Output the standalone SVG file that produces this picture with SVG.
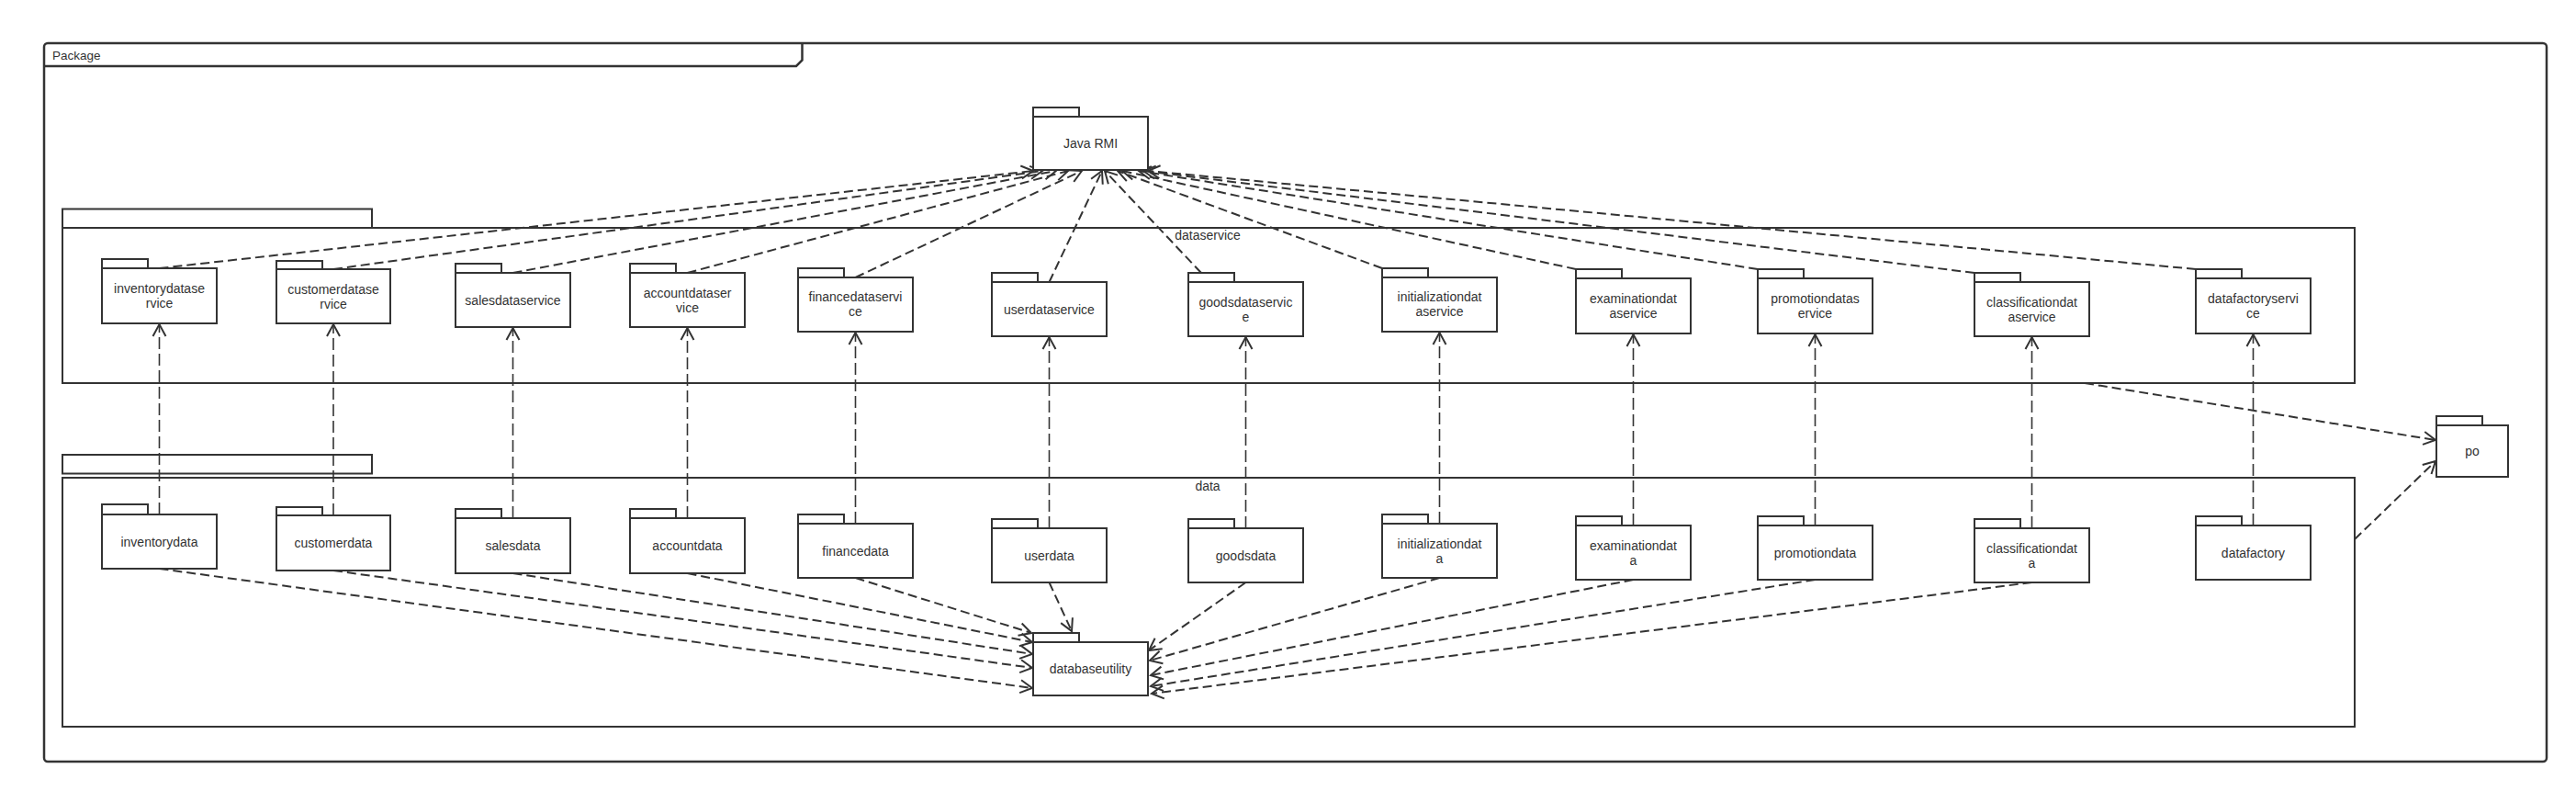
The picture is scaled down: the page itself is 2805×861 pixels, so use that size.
<svg xmlns="http://www.w3.org/2000/svg" width="2805" height="861" viewBox="0 0 2805 861">
<style>
  .frame { fill: #ffffff; stroke: #333333; stroke-width: 2.5; }
  .pkg { fill: #ffffff; stroke: #333333; stroke-width: 2; }
  .tab { fill: #ffffff; stroke: #333333; stroke-width: 2; }
  .body { fill: #ffffff; stroke: #333333; stroke-width: 2; }
  .lbl { font-family: "Liberation Sans", Arial, sans-serif; font-size: 14px; fill: #333333; text-anchor: middle; }
  .title { font-family: "Liberation Sans", Arial, sans-serif; font-size: 13.5px; fill: #333333; }
  .dep { fill: none; stroke: #333333; stroke-width: 2; stroke-dasharray: 10 5; marker-end: url(#arr); }
  .vdep { fill: none; stroke: #333333; stroke-width: 1.6; stroke-dasharray: 13 5; marker-end: url(#arr); }
</style>
<defs>
  <marker id="arr" markerWidth="18" markerHeight="18" refX="15" refY="9" orient="auto" markerUnits="userSpaceOnUse">
    <path d="M2,2 L15,9 L2,16" fill="none" stroke="#333333" stroke-width="2" stroke-dasharray="none"/>
  </marker>
</defs>

<rect width="2805" height="861" fill="#ffffff"/>

<g id="package-frame">
  <rect class="frame" x="48" y="47" width="2725" height="782" rx="4"/>
  <path d="M48,72 H867 L873.5,65.5 V47" fill="none" stroke="#333333" stroke-width="2.5"/>
  <text class="title" x="57" y="65">Package</text>
</g>

<g id="pkg-dataservice">
  <rect class="pkg" x="68" y="227.5" width="337" height="20.5"/>
  <rect class="pkg" x="68" y="248" width="2496" height="169"/>
  <text class="lbl" x="1315" y="261">dataservice</text>
</g>

<g id="pkg-data">
  <rect class="pkg" x="68" y="495" width="337" height="20.5"/>
  <rect class="pkg" x="68" y="520" width="2496" height="271"/>
  <text class="lbl" x="1315" y="534">data</text>
</g>

<g id="connectors">
  <!-- data -> dataservice -->
  <line class="vdep" x1="173.5" y1="560" x2="173.5" y2="353"/>
  <line class="vdep" x1="363" y1="561" x2="363" y2="353"/>
  <line class="vdep" x1="558.5" y1="564" x2="558.5" y2="357"/>
  <line class="vdep" x1="748.5" y1="564" x2="748.5" y2="357"/>
  <line class="vdep" x1="931.5" y1="570" x2="931.5" y2="362"/>
  <line class="vdep" x1="1142.5" y1="575" x2="1142.5" y2="367"/>
  <line class="vdep" x1="1356.5" y1="575" x2="1356.5" y2="367"/>
  <line class="vdep" x1="1567.5" y1="570" x2="1567.5" y2="362"/>
  <line class="vdep" x1="1778.5" y1="572" x2="1778.5" y2="364"/>
  <line class="vdep" x1="1976.5" y1="572" x2="1976.5" y2="364"/>
  <line class="vdep" x1="2212.5" y1="575" x2="2212.5" y2="367"/>
  <line class="vdep" x1="2453.5" y1="572" x2="2453.5" y2="364"/>
  <!-- dataservice -> Java RMI -->
  <line class="dep" x1="173.5" y1="292" x2="1125" y2="186"/>
  <line class="dep" x1="363" y1="293" x2="1135" y2="186"/>
  <line class="dep" x1="558.5" y1="297" x2="1150" y2="186"/>
  <line class="dep" x1="748.5" y1="297" x2="1163" y2="186"/>
  <line class="dep" x1="931.5" y1="302" x2="1178" y2="186"/>
  <line class="dep" x1="1142.5" y1="307" x2="1200" y2="186"/>
  <line class="dep" x1="1308" y1="297" x2="1203" y2="186"/>
  <line class="dep" x1="1505" y1="292" x2="1217" y2="186"/>
  <line class="dep" x1="1716" y1="293" x2="1222" y2="186"/>
  <line class="dep" x1="1914" y1="293" x2="1240" y2="186"/>
  <line class="dep" x1="2150" y1="297" x2="1245" y2="186"/>
  <line class="dep" x1="2391" y1="293" x2="1250" y2="186"/>
  <!-- data -> databaseutility -->
  <line class="dep" x1="173.5" y1="619" x2="1124" y2="749"/>
  <line class="dep" x1="363" y1="621" x2="1124" y2="727"/>
  <line class="dep" x1="558.5" y1="624" x2="1124" y2="712"/>
  <line class="dep" x1="748.5" y1="624" x2="1124" y2="699"/>
  <line class="dep" x1="931.5" y1="629" x2="1123" y2="689"/>
  <line class="dep" x1="1142.5" y1="634" x2="1167" y2="687"/>
  <line class="dep" x1="1356.5" y1="634" x2="1251" y2="708"/>
  <line class="dep" x1="1567.5" y1="629" x2="1252" y2="719"/>
  <line class="dep" x1="1778.5" y1="631" x2="1253" y2="735"/>
  <line class="dep" x1="1976.5" y1="631" x2="1253" y2="747"/>
  <line class="dep" x1="2212.5" y1="634" x2="1254" y2="755"/>
  <!-- to po -->
  <line class="dep" x1="2270" y1="417" x2="2652" y2="479"/>
  <line class="dep" x1="2564" y1="587" x2="2652" y2="502"/>
</g>

<g id="java-rmi">
  <rect class="tab" x="1125" y="117" width="50" height="10"/>
  <rect class="body" x="1125" y="127" width="125" height="58"/>
  <text class="lbl" x="1187.5" y="161">Java RMI</text>
</g>

<g id="inventorydataservice">
  <rect class="tab" x="111" y="282" width="50" height="10"/>
  <rect class="body" x="111" y="292" width="125" height="60"/>
  <text class="lbl" x="173.5" y="319">inventorydatase</text>
  <text class="lbl" x="173.5" y="335">rvice</text>
</g>
<g id="customerdataservice">
  <rect class="tab" x="301" y="284" width="50" height="9"/>
  <rect class="body" x="301" y="293" width="124" height="59"/>
  <text class="lbl" x="363" y="319.5">customerdatase</text>
  <text class="lbl" x="363" y="335.5">rvice</text>
</g>
<g id="salesdataservice">
  <rect class="tab" x="496" y="287" width="50" height="10"/>
  <rect class="body" x="496" y="297" width="125" height="59"/>
  <text class="lbl" x="558.5" y="331.5">salesdataservice</text>
</g>
<g id="accountdataservice">
  <rect class="tab" x="686" y="287" width="50" height="10"/>
  <rect class="body" x="686" y="297" width="125" height="59"/>
  <text class="lbl" x="748.5" y="323.5">accountdataser</text>
  <text class="lbl" x="748.5" y="339.5">vice</text>
</g>
<g id="financedataservice">
  <rect class="tab" x="869" y="292" width="50" height="10"/>
  <rect class="body" x="869" y="302" width="125" height="59"/>
  <text class="lbl" x="931.5" y="328">financedataservi</text>
  <text class="lbl" x="931.5" y="344">ce</text>
</g>
<g id="userdataservice">
  <rect class="tab" x="1080" y="297" width="50" height="10"/>
  <rect class="body" x="1080" y="307" width="125" height="59"/>
  <text class="lbl" x="1142.5" y="341.5">userdataservice</text>
</g>
<g id="goodsdataservice">
  <rect class="tab" x="1294" y="297" width="50" height="10"/>
  <rect class="body" x="1294" y="307" width="125" height="59"/>
  <text class="lbl" x="1356.5" y="333.5">goodsdataservic</text>
  <text class="lbl" x="1356.5" y="349.5">e</text>
</g>
<g id="initializationdataservice">
  <rect class="tab" x="1505" y="292" width="50" height="10"/>
  <rect class="body" x="1505" y="302" width="125" height="59"/>
  <text class="lbl" x="1567.5" y="328">initializationdat</text>
  <text class="lbl" x="1567.5" y="344">aservice</text>
</g>
<g id="examinationdataservice">
  <rect class="tab" x="1716" y="293" width="50" height="10"/>
  <rect class="body" x="1716" y="303" width="125" height="60"/>
  <text class="lbl" x="1778.5" y="330">examinationdat</text>
  <text class="lbl" x="1778.5" y="346">aservice</text>
</g>
<g id="promotiondataservice">
  <rect class="tab" x="1914" y="293" width="50" height="10"/>
  <rect class="body" x="1914" y="303" width="125" height="60"/>
  <text class="lbl" x="1976.5" y="330">promotiondatas</text>
  <text class="lbl" x="1976.5" y="346">ervice</text>
</g>
<g id="classificationdataservice">
  <rect class="tab" x="2150" y="297" width="50" height="10"/>
  <rect class="body" x="2150" y="307" width="125" height="59"/>
  <text class="lbl" x="2212.5" y="333.5">classificationdat</text>
  <text class="lbl" x="2212.5" y="349.5">aservice</text>
</g>
<g id="datafactoryservice">
  <rect class="tab" x="2391" y="293" width="50" height="10"/>
  <rect class="body" x="2391" y="303" width="125" height="60"/>
  <text class="lbl" x="2453.5" y="330">datafactoryservi</text>
  <text class="lbl" x="2453.5" y="346">ce</text>
</g>

<g id="inventorydata">
  <rect class="tab" x="111" y="549" width="50" height="11"/>
  <rect class="body" x="111" y="560" width="125" height="59"/>
  <text class="lbl" x="173.5" y="595">inventorydata</text>
</g>
<g id="customerdata">
  <rect class="tab" x="301" y="552" width="50" height="9"/>
  <rect class="body" x="301" y="561" width="124" height="60"/>
  <text class="lbl" x="363" y="596">customerdata</text>
</g>
<g id="salesdata">
  <rect class="tab" x="496" y="554" width="50" height="10"/>
  <rect class="body" x="496" y="564" width="125" height="60"/>
  <text class="lbl" x="558.5" y="599">salesdata</text>
</g>
<g id="accountdata">
  <rect class="tab" x="686" y="554" width="50" height="10"/>
  <rect class="body" x="686" y="564" width="125" height="60"/>
  <text class="lbl" x="748.5" y="599">accountdata</text>
</g>
<g id="financedata">
  <rect class="tab" x="869" y="560" width="50" height="10"/>
  <rect class="body" x="869" y="570" width="125" height="59"/>
  <text class="lbl" x="931.5" y="604.5">financedata</text>
</g>
<g id="userdata">
  <rect class="tab" x="1080" y="565" width="50" height="10"/>
  <rect class="body" x="1080" y="575" width="125" height="59"/>
  <text class="lbl" x="1142.5" y="609.5">userdata</text>
</g>
<g id="goodsdata">
  <rect class="tab" x="1294" y="565" width="50" height="10"/>
  <rect class="body" x="1294" y="575" width="125" height="59"/>
  <text class="lbl" x="1356.5" y="609.5">goodsdata</text>
</g>
<g id="initializationdata">
  <rect class="tab" x="1505" y="560" width="50" height="10"/>
  <rect class="body" x="1505" y="570" width="125" height="59"/>
  <text class="lbl" x="1567.5" y="596.5">initializationdat</text>
  <text class="lbl" x="1567.5" y="612.5">a</text>
</g>
<g id="examinationdata">
  <rect class="tab" x="1716" y="562" width="50" height="10"/>
  <rect class="body" x="1716" y="572" width="125" height="59"/>
  <text class="lbl" x="1778.5" y="598.5">examinationdat</text>
  <text class="lbl" x="1778.5" y="614.5">a</text>
</g>
<g id="promotiondata">
  <rect class="tab" x="1914" y="562" width="50" height="10"/>
  <rect class="body" x="1914" y="572" width="125" height="59"/>
  <text class="lbl" x="1976.5" y="606.5">promotiondata</text>
</g>
<g id="classificationdata">
  <rect class="tab" x="2150" y="565" width="50" height="10"/>
  <rect class="body" x="2150" y="575" width="125" height="59"/>
  <text class="lbl" x="2212.5" y="601.5">classificationdat</text>
  <text class="lbl" x="2212.5" y="617.5">a</text>
</g>
<g id="datafactory">
  <rect class="tab" x="2391" y="562" width="50" height="10"/>
  <rect class="body" x="2391" y="572" width="125" height="59"/>
  <text class="lbl" x="2453.5" y="606.5">datafactory</text>
</g>

<g id="databaseutility">
  <rect class="tab" x="1125" y="689" width="50" height="10"/>
  <rect class="body" x="1125" y="699" width="125" height="58"/>
  <text class="lbl" x="1187.5" y="733">databaseutility</text>
</g>

<g id="po">
  <rect class="tab" x="2653" y="453" width="50" height="10"/>
  <rect class="body" x="2653" y="463" width="78" height="56"/>
  <text class="lbl" x="2692" y="496">po</text>
</g>
</svg>
